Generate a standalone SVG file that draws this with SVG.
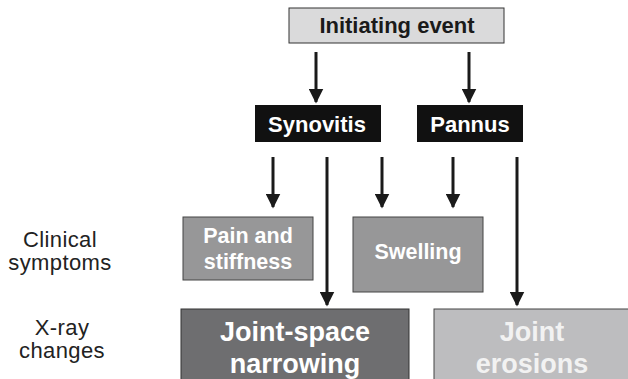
<svg xmlns="http://www.w3.org/2000/svg" width="628" height="379" viewBox="0 0 628 379">
<defs>
<style>
text{font-family:"Liberation Sans",Arial,sans-serif;text-anchor:middle}
.b{font-weight:bold}
.w{fill:#fff}
.lbl{font-size:22px;fill:#222;letter-spacing:0.4px}
.ln{stroke:#1a1a1a;stroke-width:3;fill:none}
</style>
<marker id="ah" markerWidth="5" markerHeight="5" refX="4.5" refY="2.5" orient="auto" markerUnits="strokeWidth" viewBox="0 0 5 5">
<path d="M0,0 L5,2.5 L0,5 Z" fill="#1a1a1a"/>
</marker>
</defs>
<rect width="628" height="379" fill="#fff"/>
<g id="initiating">
<rect x="289" y="8" width="215" height="35" fill="#dadadb" stroke="#333" stroke-width="1"/>
<text x="397" y="33" class="b" font-size="22" fill="#1a1a1a">Initiating event</text>
</g>
<g id="synovitis">
<rect x="255" y="105" width="126" height="37" fill="#111"/>
<text x="317" y="132" class="b w" font-size="22">Synovitis</text>
</g>
<g id="pannus">
<rect x="417" y="105" width="106" height="37" fill="#111"/>
<text x="470" y="132" class="b w" font-size="22">Pannus</text>
</g>
<g id="pain">
<rect x="183" y="217" width="130" height="63" fill="#979798" stroke="#444" stroke-width="1"/>
<text x="248" y="243" class="b w" font-size="21.5">Pain and</text>
<text x="248" y="269" class="b w" font-size="21.5">stiffness</text>
</g>
<g id="swelling">
<rect x="353" y="217" width="130" height="75" fill="#979798" stroke="#444" stroke-width="1"/>
<text x="418" y="259" class="b w" font-size="21.5">Swelling</text>
</g>
<g id="jsn">
<rect x="181" y="309" width="228" height="80" fill="#6e6e70" stroke="#333" stroke-width="1"/>
<text x="295" y="341" class="b w" font-size="27">Joint-space</text>
<text x="295" y="373" class="b w" font-size="27">narrowing</text>
</g>
<g id="erosions">
<rect x="434" y="309" width="200" height="80" fill="#bdbdbf" stroke="#444" stroke-width="1"/>
<text x="532" y="341" class="b" font-size="27" fill="#f2f2f2">Joint</text>
<text x="532" y="373" class="b" font-size="27" fill="#f2f2f2">erosions</text>
</g>
<g id="labels">
<text x="60" y="247" class="lbl">Clinical</text>
<text x="60" y="270" class="lbl">symptoms</text>
<text x="62" y="335" class="lbl">X-ray</text>
<text x="62" y="358" class="lbl">changes</text>
</g>
<g id="connectors" class="ln">
<line x1="316" y1="52" x2="316" y2="102" marker-end="url(#ah)"/>
<line x1="469" y1="52" x2="469" y2="102" marker-end="url(#ah)"/>
<line x1="273" y1="157" x2="273" y2="207" marker-end="url(#ah)"/>
<line x1="327" y1="157" x2="327" y2="305" marker-end="url(#ah)"/>
<line x1="382" y1="157" x2="382" y2="207" marker-end="url(#ah)"/>
<line x1="453" y1="157" x2="453" y2="207" marker-end="url(#ah)"/>
<line x1="517" y1="157" x2="517" y2="305" marker-end="url(#ah)"/>
</g>
</svg>
